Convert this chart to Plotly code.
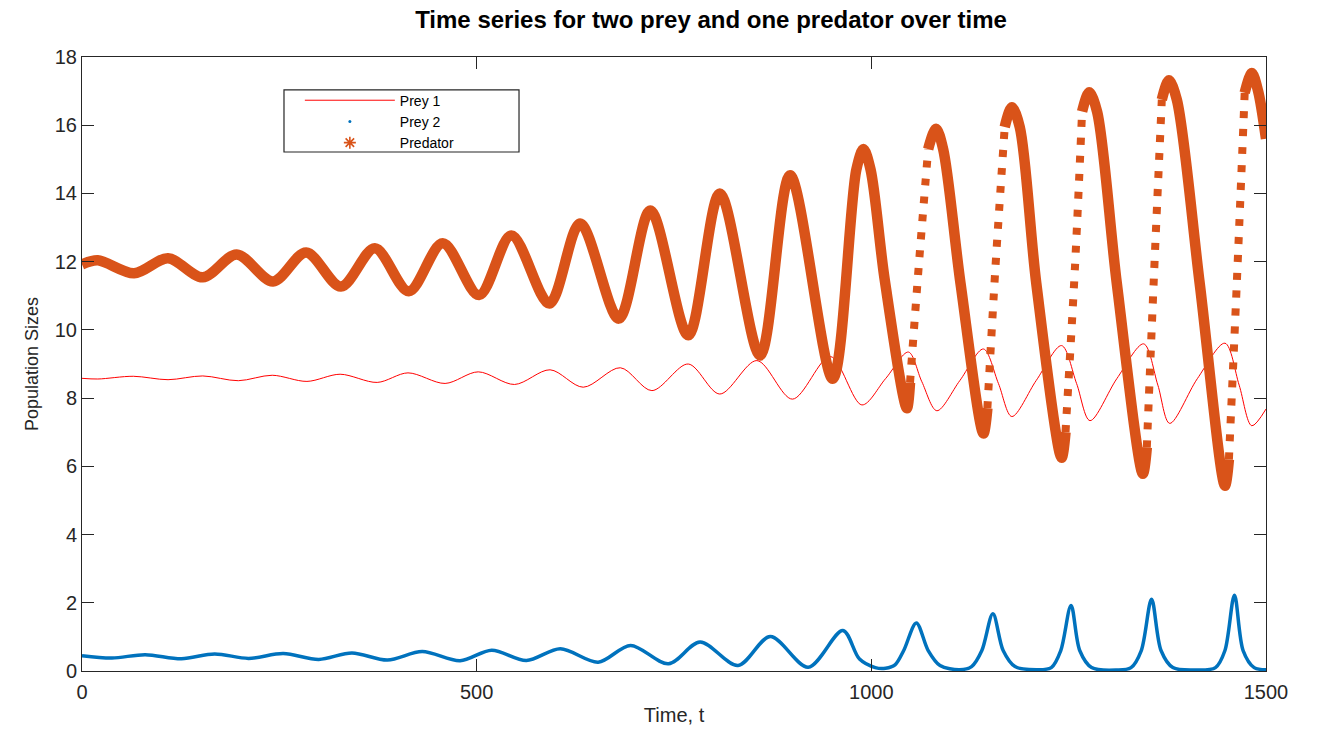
import plotly.graph_objects as go

# ---------------- data ----------------
pred_t = [0, 20, 66, 109, 153, 196, 242, 284, 328, 371, 414, 457, 503, 544, 592, 631,
          680, 720, 768, 808, 859, 897, 951, 981, 990, 999, 1017, 1045, 1049, 1060, 1072,
          1082, 1091, 1113, 1142, 1147, 1157, 1169, 1178, 1188, 1209, 1241, 1246, 1258,
          1267, 1276, 1286, 1311, 1344, 1349, 1358, 1368, 1377, 1387, 1416, 1448, 1453,
          1463, 1473, 1482, 1490, 1500]
pred_v = [11.92, 12.04, 11.66, 12.10, 11.54, 12.21, 11.42, 12.27, 11.27, 12.39, 11.13,
          12.54, 11.02, 12.77, 10.77, 13.12, 10.33, 13.50, 9.84, 14.00, 9.25, 14.53, 8.57,
          14.70, 15.30, 14.70, 11.46, 7.70, 8.45, 11.85, 15.30, 15.90, 15.30, 11.36, 6.96,
          7.70, 11.75, 15.95, 16.53, 15.95, 11.36, 6.25, 7.00, 11.85, 16.40, 16.97, 16.40,
          11.36, 5.78, 6.55, 11.56, 16.75, 17.32, 16.75, 11.36, 5.43, 6.20, 11.36, 16.95,
          17.53, 17.00, 15.60]

prey1_t = [0, 20, 65, 109, 153, 198, 241, 285, 327, 374, 413, 460, 502, 548, 593, 635,
           682, 722, 768, 808, 855, 900, 948, 988, 1018, 1047, 1064, 1083, 1112, 1142,
           1161, 1178, 1209, 1241, 1260, 1277, 1311, 1345, 1363, 1378, 1413, 1448, 1466,
           1482, 1500]
prey1_v = [8.58, 8.56, 8.64, 8.54, 8.65, 8.51, 8.67, 8.49, 8.70, 8.46, 8.74, 8.43, 8.77,
           8.40, 8.83, 8.32, 8.89, 8.22, 9.00, 8.12, 9.10, 7.97, 9.22, 7.80, 8.57, 9.35,
           8.48, 7.63, 8.51, 9.44, 8.43, 7.46, 8.52, 9.54, 8.43, 7.34, 8.57, 9.59, 8.38,
           7.26, 8.57, 9.61, 8.38, 7.19, 7.68]

prey2_t = [0, 38, 80, 126, 168, 211, 255, 300, 342, 387, 431, 479, 519, 563, 606, 654,
           695, 743, 783, 831, 872, 920, 964, 985, 1005, 1018, 1030, 1041, 1057, 1072,
           1087, 1112, 1127, 1140, 1154, 1167, 1182, 1209, 1228, 1240, 1253, 1264, 1279,
           1311, 1329, 1342, 1355, 1367, 1382, 1412, 1436, 1448, 1460, 1471, 1485, 1500]
prey2_v = [0.45, 0.38, 0.48, 0.36, 0.50, 0.37, 0.51, 0.34, 0.53, 0.32, 0.57, 0.30, 0.61,
           0.31, 0.65, 0.26, 0.75, 0.21, 0.85, 0.16, 1.01, 0.11, 1.19, 0.35, 0.10, 0.08,
           0.18, 0.60, 1.41, 0.60, 0.16, 0.04, 0.13, 0.60, 1.68, 0.60, 0.13, 0.04, 0.10,
           0.60, 1.92, 0.60, 0.10, 0.03, 0.10, 0.60, 2.10, 0.60, 0.10, 0.03, 0.10, 0.60,
           2.22, 0.60, 0.10, 0.04]

x_ticks = [0, 500, 1000, 1500]
y_ticks = [0, 2, 4, 6, 8, 10, 12, 14, 16, 18]

# fast-rising stretches of the predator curve, where the reference's
# asterisks are spread apart (start and end times of each stretch)
sparse_rises = [(1049, 1072), (1147, 1169), (1246, 1267), (1349, 1368), (1453, 1473)]

RED = "#FF0000"
BLUE = "#0072BD"
ORANGE = "#D95319"
AX = "#262626"
FONT = "Liberation Sans, Arial, sans-serif"

W, H = 1317, 731

# split predator series into densely and sparsely sampled stretches
dense_x, dense_y, sparse_x, sparse_y = [], [], [], []
for t, v in zip(pred_t, pred_v):
    inside = any(a < t < b for a, b in sparse_rises)
    is_start = any(t == a for a, b in sparse_rises)
    is_end = any(t == b for a, b in sparse_rises)
    if not inside:
        dense_x.append(t)
        dense_y.append(v)
        if is_start:
            dense_x.append(None)
            dense_y.append(None)
    if inside or is_start or is_end:
        sparse_x.append(t)
        sparse_y.append(v)
        if is_end:
            sparse_x.append(None)
            sparse_y.append(None)

fig = go.Figure()

fig.add_trace(go.Scatter(x=prey1_t, y=prey1_v, mode="lines", name="Prey 1",
                         line=dict(color=RED, width=1, shape="spline", smoothing=0.9)))
fig.add_trace(go.Scatter(x=prey2_t, y=prey2_v, mode="lines", name="Prey 2", showlegend=False,
                         line=dict(color=BLUE, width=3.5, shape="spline", smoothing=0.9)))
fig.add_trace(go.Scatter(x=dense_x, y=dense_y, mode="lines", name="Predator", showlegend=False,
                         connectgaps=False,
                         line=dict(color=ORANGE, width=10.5, shape="spline", smoothing=0.9)))
fig.add_trace(go.Scatter(x=sparse_x, y=sparse_y, mode="lines", name="Predator", showlegend=False,
                         connectgaps=False,
                         line=dict(color=ORANGE, width=8, shape="spline", smoothing=0.9,
                                   dash="7px,11px")))

# legend entries (marker style as in the reference legend)
fig.add_trace(go.Scatter(x=[None], y=[None], mode="markers", name="Prey 2",
                         marker=dict(color=BLUE, size=3, symbol="circle")))
fig.add_trace(go.Scatter(x=[None], y=[None], mode="markers", name="Predator",
                         marker=dict(color=ORANGE, size=10, symbol="asterisk-open",
                                     line=dict(color=ORANGE, width=1.6))))

axis_common = dict(showgrid=False, zeroline=False, showline=True, linecolor=AX, linewidth=1,
                   mirror="ticks", ticks="inside", ticklen=12, tickwidth=1, tickcolor=AX,
                   automargin=False,
                   tickfont=dict(family=FONT, size=20, color=AX))

fig.update_layout(
    width=W, height=H,
    margin=dict(l=82, r=51, t=57, b=60),
    paper_bgcolor="white", plot_bgcolor="white",
    title=dict(text="<b>Time series for two prey and one predator over time</b>",
               x=711 / W, xref="container", xanchor="center",
               y=1 - 20 / H, yref="container", yanchor="middle",
               font=dict(family=FONT, size=24, color="black")),
    xaxis=dict(range=[0, 1500], tickvals=x_ticks, ticklabelstandoff=3,
               title=dict(text="Time, t", font=dict(family=FONT, size=20, color=AX), standoff=5),
               **axis_common),
    yaxis=dict(range=[0, 18], tickvals=y_ticks,
               title=dict(text="Population Sizes", font=dict(family=FONT, size=18, color=AX), standoff=11),
               **axis_common),
    showlegend=True,
    legend=dict(x=0.184, y=0.955, xanchor="left", yanchor="top", bgcolor="rgba(0,0,0,0)",
                borderwidth=0, font=dict(family=FONT, size=14, color="black"),
                itemwidth=90, tracegroupgap=0),
    shapes=[dict(type="rect", xref="paper", yref="paper", x0=0.1706, x1=0.3691,
                 y0=0.8453, y1=0.9463, line=dict(color=AX, width=1.2),
                 fillcolor="white", layer="above")],
)

fig.write_html("out.html", config={"displayModeBar": False},
               post_script="document.body.style.margin='0px';")
